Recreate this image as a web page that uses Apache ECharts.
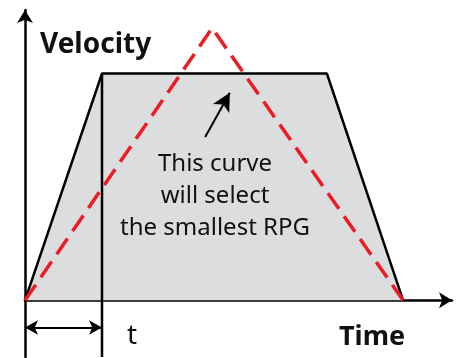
<!DOCTYPE html>
<html>
<head>
<meta charset="utf-8">
<script src="https://cdn.jsdelivr.net/npm/echarts@6/dist/echarts.min.js"></script>
<style>
  html, body { margin: 0; padding: 0; background: #fff; }
  #chart { width: 461px; height: 358px; }
</style>
</head>
<body>
<div id="chart"></div>
<script>
// time unit: t = acceleration time; velocity unit: plateau speed
const trapezoid = [[0, 0], [1, 1], [3.92, 1], [4.91, 0]];
const triangle = [[0, 0], [2.43, 1.2], [4.91, 0]];
const tMarker = [[1, 1], [1, -0.25]];
const tSpan = [[0, -0.12], [1, -0.12]];
const pointer = [[2.34, 0.72], [2.66, 0.915]];
const noteLines = ["This curve", "will select", "the smallest RPG"];

const chart = echarts.init(document.getElementById("chart"));
const font = "'Noto Sans', sans-serif";

chart.setOption({
  animation: false,
  grid: { left: 25, top: 10, width: 427, height: 347 },
  xAxis: {
    type: "value",
    min: 0,
    max: 5.545,
    axisLine: {
      onZero: true,
      symbol: ["none", "arrow"],
      symbolSize: [12, 13],
      lineStyle: { color: "#000", width: 2.5 },
    },
    axisTick: { show: false },
    axisLabel: { show: false },
    splitLine: { show: false },
  },
  yAxis: {
    type: "value",
    min: -0.25,
    max: 1.28,
    axisLine: {
      show: true,
      onZero: false,
      symbol: ["none", "arrow"],
      symbolSize: [12, 13],
      lineStyle: { color: "#000", width: 2.5 },
    },
    axisTick: { show: false },
    axisLabel: { show: false },
    splitLine: { show: false },
  },
  series: [
    {
      type: "line",
      data: trapezoid,
      showSymbol: false,
      lineStyle: { color: "#000", width: 2.5 },
      areaStyle: { color: "#dcdddf", opacity: 1 },
      z: 2,
    },
    {
      type: "line",
      data: tMarker,
      showSymbol: false,
      lineStyle: { color: "#000", width: 2.5 },
      z: 3,
      markLine: {
        silent: true,
        symbol: ["arrow", "arrow"],
        symbolSize: [11, 13],
        label: { show: false },
        lineStyle: { color: "#000", width: 2, type: "solid" },
        data: [
          [{ coord: tSpan[0] }, { coord: tSpan[1] }],
          [{ coord: pointer[0], symbol: "none" }, { coord: pointer[1], symbol: "arrow", symbolSize: [14, 18] }],
        ],
      },
    },
    {
      type: "line",
      data: triangle,
      showSymbol: false,
      lineStyle: { color: "#ec1c24", width: 3.5, type: [19, 9] },
      z: 4,
    },
  ],
  graphic: [
    {
      type: "text",
      left: 40,
      top: 31,
      z: 100,
      style: { text: "Velocity", font: "bold 28px " + font, fill: "#111" },
    },
    {
      type: "text",
      left: 339,
      top: 324,
      z: 100,
      style: { text: "Time", font: "bold 27px " + font, fill: "#111" },
    },
    {
      type: "text",
      left: 127,
      top: 322,
      z: 100,
      style: { text: "t", font: "28px " + font, fill: "#111" },
    },
    {
      type: "text",
      x: 215,
      y: 148,
      z: 100,
      style: {
        text: noteLines.join("\n"),
        font: "24px " + font,
        lineHeight: 32,
        textAlign: "center",
        align: "center",
        fill: "#111",
      },
    },
  ],
});
</script>
</body>
</html>
